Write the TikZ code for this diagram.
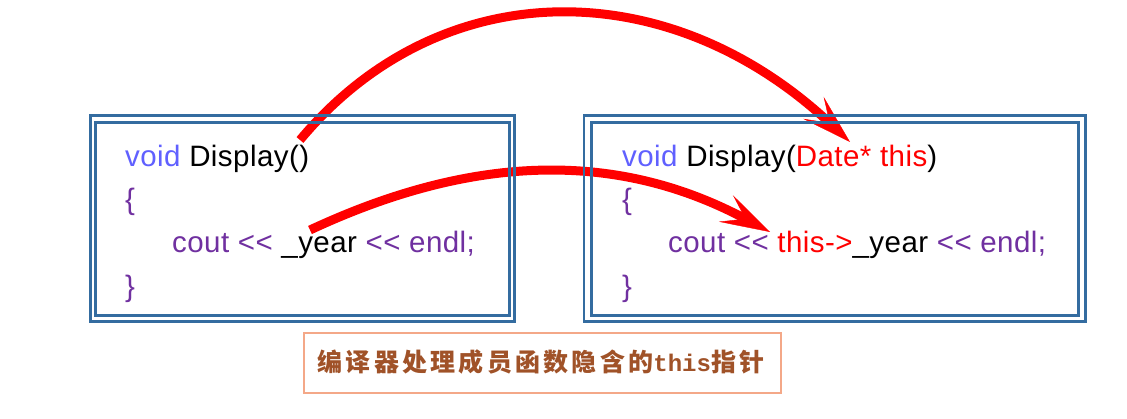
\documentclass[tikz,border=0pt]{standalone}
\usepackage{fontspec}
\setmainfont{Liberation Sans}[Ligatures=TeXOff, LetterSpace=1.5]
\newfontfamily\cjkfont[LetterSpace=13]{Noto Sans CJK SC}
\newfontfamily\capmono[Ligatures=TeXOff]{Liberation Mono}
\usetikzlibrary{arrows.meta}
\definecolor{kw}{RGB}{96,96,255}
\definecolor{pu}{RGB}{112,48,160}
\definecolor{boxblue}{RGB}{52,108,160}
\definecolor{capbrown}{RGB}{160,82,40}
\definecolor{capline}{RGB}{244,168,136}
\definecolor{arrred}{RGB}{255,0,0}
\begin{document}
\begin{tikzpicture}[x=1pt,y=-1pt,
  code/.style={anchor=base west, inner sep=0pt, font=\fontsize{29.5}{35}\selectfont},
  outerframe/.style={draw=boxblue, line width=2.5pt, rectangle, inner sep=0pt},
  innerframe/.style={draw=boxblue, line width=3pt, rectangle, inner sep=0pt},
  capbox/.style={draw=capline, line width=1.5pt, fill=white, rectangle, inner sep=0pt, minimum width=477pt, minimum height=60pt},
  bigarrow/.style={draw=arrred, line width=9pt, -{Stealth[length=50pt,width=30pt,inset=22pt,line width=0.4pt]}}]
\fill[white] (0,0) rectangle (1127,419);
\useasboundingbox (0,0) rectangle (1127,419);

% arrows (drawn below the frames)
\coordinate (s1) at (300,140);
\coordinate (t1) at (850,142);
\coordinate (s2) at (310,230);
\coordinate (t2) at (770,232);
\draw[bigarrow] (s1) .. controls (440,-28) and (668,-28) .. (t1);
\draw[bigarrow] (s2) .. controls (477,152) and (620,152) .. (t2);

% frames
\node[outerframe, minimum width=424pt, minimum height=206pt] (Lout) at (302.5,218.5) {};
\node[innerframe, minimum width=414pt, minimum height=193pt] (Lin) at (302.5,219) {};
\node[outerframe, minimum width=501.5pt, minimum height=206pt] (Rout) at (834.75,218.5) {};
\node[innerframe, minimum width=487pt, minimum height=193pt] (Rin) at (834.5,219) {};

% left code
\node[code] (l1) at (125,167) {\textcolor{kw}{void} Display()};
\node[code] (l2) at (125,210) {\textcolor{pu}{\{}};
\node[code] (l3) at (172,253) {\textcolor{pu}{cout <<} \_year \textcolor{pu}{<< endl;}};
\node[code] (l4) at (125,297) {\textcolor{pu}{\}}};

% right code
\node[code] (r1) at (622,167) {\textcolor{kw}{void} Display(\textcolor{arrred}{Date* this})};
\node[code] (r2) at (622,210) {\textcolor{pu}{\{}};
\node[code] (r3) at (668,253) {\textcolor{pu}{cout <<} \textcolor{arrred}{this->}\_year \textcolor{pu}{<< endl;}};
\node[code] (r4) at (622,297) {\textcolor{pu}{\}}};

% caption
\node[capbox] (cap) at (542.5,363) {};
\node[text=capbrown, inner sep=0pt, anchor=center] (captext) at (541,362)
  {{\cjkfont\bfseries\fontsize{25}{28}\selectfont 编译器处理成员函数隐含的}{\capmono\bfseries\fontsize{24}{28}\selectfont this}{\cjkfont\bfseries\fontsize{25}{28}\selectfont 指针}};
\end{tikzpicture}
\end{document}
